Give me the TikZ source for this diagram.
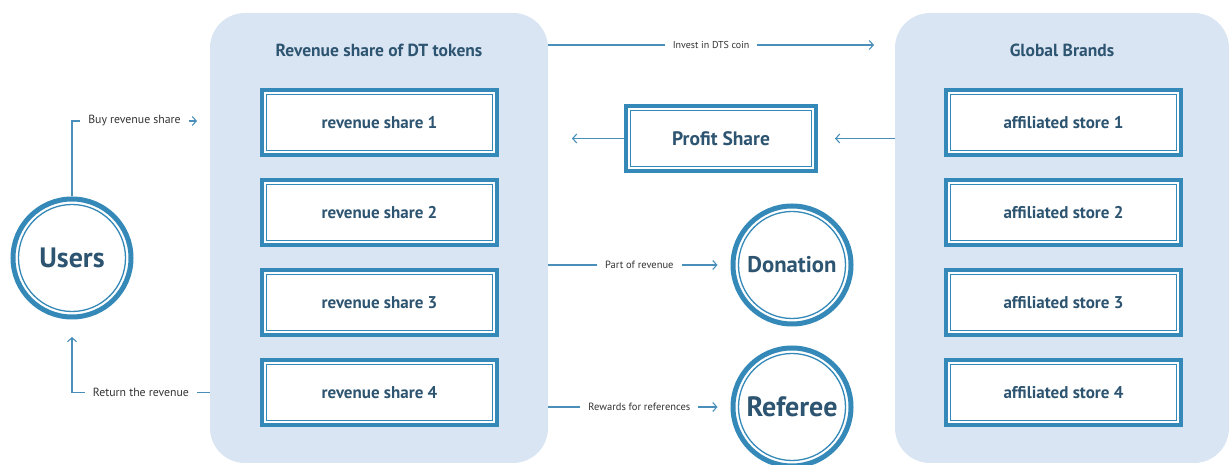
\documentclass[tikz,border=0pt]{standalone}
\usepackage{fontspec}
\setmainfont{PT Sans}
\usepackage{tikz}
\usetikzlibrary{positioning}
\usetikzlibrary{calc}
\usetikzlibrary{arrows.meta}

\definecolor{panelblue}{HTML}{DAE5F3}
\definecolor{frameblue}{HTML}{3589B8}
\definecolor{inkblue}{HTML}{2D5470}
\definecolor{arrowblue}{HTML}{4A8FBA}
\definecolor{labelgray}{HTML}{333333}

\begin{document}
\begin{tikzpicture} [
    x=1pt, y=1pt,                  % one unit per pixel of the sketch
    node distance=21pt and 40pt,   % gap between stacked boxes
    ]
% -------------------------------------------------
\tikzset{
  base/.style={draw=frameblue, line width=4pt, fill=white, align=center, text=inkblue, font=\bfseries\fontsize{17}{20}\selectfont},
  rect/.style={base, rectangle, minimum width=235pt, minimum height=65pt, inner sep=0pt},
  disc/.style={base, circle, line width=5pt, minimum size=118pt, inner sep=0pt},
  frame/.style={draw=frameblue, line width=1.3pt},
  panel/.style={fill=panelblue, rounded corners=35pt, inner sep=0pt, minimum height=450pt},
  title/.style={text=inkblue, font=\bfseries\fontsize{17.5}{21}\selectfont},
  lbl/.style={fill=white, text=labelgray, inner xsep=8pt, font=\fontsize{10.5}{12}\selectfont},
  line/.style={draw=arrowblue, line width=1.1pt, -{Straight Barb[length=4pt, width=9pt]}},
}
    \useasboundingbox (0,0) rectangle (1231,465);

    \node [panel, minimum width=338pt] (panelL) at (379,227) {};
    \node [panel, minimum width=334pt] (panelR) at (1062,227) {};
    \node [title] (titleL) at (379,415) {Revenue share of DT tokens};
    \node [title] (titleR) at (1062,415) {Global Brands};

    \node [rect] (rs1) at (379.5,342.5) {revenue share 1};
    \node [rect, below=of rs1] (rs2) {revenue share 2};
    \node [rect, below=of rs2] (rs3) {revenue share 3};
    \node [rect, below=of rs3] (rs4) {revenue share 4};

    \node [rect] (as1) at (1063.5,342.5) {affiliated store 1};
    \node [rect, below=of as1] (as2) {affiliated store 2};
    \node [rect, below=of as2] (as3) {affiliated store 3};
    \node [rect, below=of as3] (as4) {affiliated store 4};

    \node [rect, minimum width=190pt, font=\bfseries\fontsize{19.5}{22}\selectfont] (profit) at (721,326.5) {Profit Share};

    \node [disc, font=\bfseries\fontsize{28}{32}\selectfont] (users) at (72,207) {Users};
    \node [disc, font=\bfseries\fontsize{22.7}{26}\selectfont] (donation) at (792,200) {Donation};
    \node [disc, font=\bfseries\fontsize{28}{32}\selectfont] (referee) at (792,58) {Referee};

    % thin inner lines
    \foreach \n in {rs1,rs2,rs3,rs4,as1,as2,as3,as4,profit}
      \draw [frame] ([shift={(6.5,6.5)}]\n.south west) rectangle ([shift={(-6.5,-6.5)}]\n.north east);
    \foreach \n in {users,donation,referee}
      \draw [frame] (\n.center) circle (53.5pt);

    \coordinate (invest) at (874,420);
    \coordinate (profitEnd) at (572,326.5);
    \coordinate (buyEnd) at (197,344);
    \coordinate (returnEnd) at (72,128);

    \path [line] (panelL.east |- invest) -- node [lbl, font=\fontsize{10}{12}\selectfont] {Invest in DTS coin} (invest);
    \path [line] (profit.west) -- (profitEnd);
    \path [line, shorten >=17pt] (panelR.west |- profit) -- (profit.east);
    \path [line, shorten >=13pt] (panelL.east |- donation) -- node [lbl] {Part of revenue} (donation.west);
    \path [line, shorten >=13pt] (panelL.east |- referee) -- node [lbl] {Rewards for references} (referee.west);
    \path [line] (users.north) |- node [lbl, pos=0.75, font=\fontsize{11.8}{14}\selectfont] {Buy revenue share} (buyEnd);
    \path [line] (panelL.west |- rs4) -| node [lbl, pos=0.25, font=\fontsize{11.8}{14}\selectfont] {Return the revenue} (returnEnd);

\end{tikzpicture}
\end{document}
